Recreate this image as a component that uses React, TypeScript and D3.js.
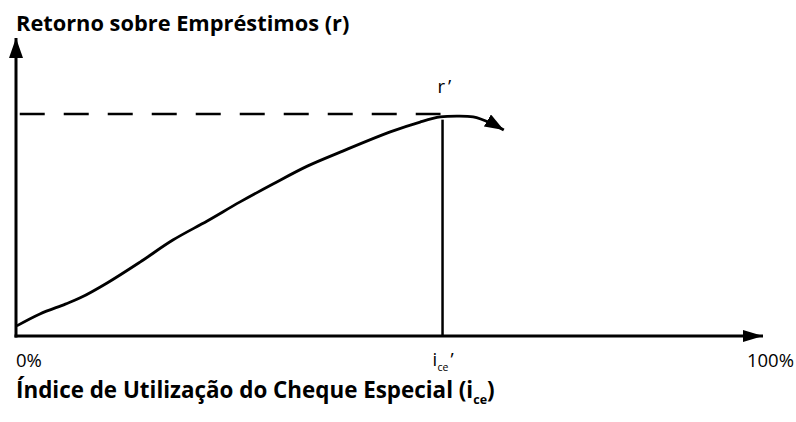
import React, { useEffect, useRef } from 'react';
import * as d3 from 'd3';

// curve points: [utilisation %, return %]
const curveX = [0.1, 3.2, 6.6, 8.6, 12.2, 16.6, 21.0, 25.6, 30.0, 34.4, 39.0, 43.4, 50.1, 54.1, 56.8, 59.0, 61.2, 63.5, 65.3];
const curveY = [3.4, 7.4, 10.7, 12.8, 17.8, 24.8, 32.2, 38.6, 45.0, 51.0, 57.0, 61.7, 68.5, 71.8, 73.5, 73.8, 73.5, 71.5, 69.1];

const icePrime = 57.1;      // optimum utilisation
const rPrime = 74.5;        // maximum return
const rAtIce = 72.6;        // top of the vertical guide
const dashStart = 0.5;

const xTickLabels = ['0%', '100%'];
const yTitle = 'Retorno sobre Empréstimos (r)';
const xTitle = 'Índice de Utilização do Cheque Especial (i';

const App = () => {
  const svgRef = useRef<SVGSVGElement | null>(null);

  useEffect(() => {
    if (!svgRef.current) return;
    d3.select(svgRef.current).selectAll('*').remove();

    const width = 796;
    const height = 422;
    const margin = { top: 38, right: 33, bottom: 86, left: 16 };

    const svg = d3.select(svgRef.current)
      .attr('width', width)
      .attr('height', height)
      .style('background', '#fff');

    const x = d3.scaleLinear().domain([0, 100]).range([margin.left, width - margin.right]);
    const y = d3.scaleLinear().domain([0, 100]).range([height - margin.bottom, margin.top]);

    const defs = svg.append('defs');
    const arrow = (id: string, len: number, wid: number) => {
      defs.append('marker')
        .attr('id', id)
        .attr('viewBox', `0 0 ${len} ${wid}`)
        .attr('refX', len)
        .attr('refY', wid / 2)
        .attr('markerWidth', len)
        .attr('markerHeight', wid)
        .attr('markerUnits', 'userSpaceOnUse')
        .attr('orient', 'auto')
        .append('path')
        .attr('d', `M0,0 L${len},${wid / 2} L0,${wid} Z`)
        .attr('fill', '#000');
    };
    arrow('ax-y', 20, 14);
    arrow('ax-x', 20, 12);
    arrow('crv', 19, 14);

    // axes
    svg.append('line')
      .attr('x1', x(0)).attr('x2', x(0))
      .attr('y1', y(0) + 1.5).attr('y2', y(100))
      .attr('stroke', '#000').attr('stroke-width', 3)
      .attr('marker-end', 'url(#ax-y)');

    svg.append('line')
      .attr('x1', x(0) - 1.5).attr('x2', x(100))
      .attr('y1', y(0)).attr('y2', y(0))
      .attr('stroke', '#000').attr('stroke-width', 3)
      .attr('marker-end', 'url(#ax-x)');

    // dashed guide for r'
    svg.append('line')
      .attr('x1', x(dashStart)).attr('x2', x(icePrime) - 2)
      .attr('y1', y(rPrime)).attr('y2', y(rPrime))
      .attr('stroke', '#000').attr('stroke-width', 2.5)
      .attr('stroke-dasharray', '25,19');

    // vertical guide for i_ce'
    svg.append('line')
      .attr('x1', x(icePrime)).attr('x2', x(icePrime))
      .attr('y1', y(rAtIce)).attr('y2', y(0))
      .attr('stroke', '#000').attr('stroke-width', 2.5);

    // return curve
    const pts = curveX.map((v, i) => [v, curveY[i]] as [number, number]);
    const line = d3.line<[number, number]>()
      .x(d => x(d[0]))
      .y(d => y(d[1]))
      .curve(d3.curveCatmullRom.alpha(0.5));

    svg.append('path')
      .attr('d', line(pts))
      .attr('fill', 'none')
      .attr('stroke', '#000')
      .attr('stroke-width', 2.8)
      .attr('marker-end', 'url(#crv)');

    // labels
    const labelFont = '"Open Sans", sans-serif';
    const titleFont = '"Open Sans", sans-serif';

    svg.append('text')
      .attr('x', x(0)).attr('y', 31)
      .attr('font-family', titleFont).attr('font-weight', 'bold')
      .attr('font-size', 21.8)
      .text(yTitle);

    svg.append('text')
      .attr('x', x(0)).attr('y', 367)
      .attr('font-family', labelFont).attr('font-size', 18.5)
      .text(xTickLabels[0]);

    svg.append('text')
      .attr('x', width - 2).attr('y', 367)
      .attr('text-anchor', 'end')
      .attr('font-family', labelFont).attr('font-size', 18.5)
      .text(xTickLabels[1]);

    // i_ce' label, main letter and subscript kept as separate texts
    const iceX = x(icePrime) - 10;
    svg.append('text')
      .attr('x', iceX).attr('y', 366)
      .attr('font-family', labelFont).attr('font-size', 18.5)
      .text('i');
    svg.append('text')
      .attr('x', iceX + 5).attr('y', 371)
      .attr('font-family', labelFont).attr('font-size', 10.5)
      .text('ce');
    svg.append('text')
      .attr('x', iceX + 18).attr('y', 366)
      .attr('font-family', labelFont).attr('font-size', 18.5)
      .text('’');

    const rp = svg.append('text')
      .attr('x', x(icePrime) - 5).attr('y', 93)
      .attr('font-family', labelFont).attr('font-size', 18.5);
    rp.append('tspan').text('r');
    rp.append('tspan').attr('dx', 3).text('’');

    const xt = svg.append('text')
      .attr('x', x(0)).attr('y', 398)
      .attr('font-family', titleFont).attr('font-weight', 'bold')
      .attr('font-size', 22.4);
    xt.append('tspan').text(xTitle);
    xt.append('tspan').attr('font-size', 12.5).attr('dy', 6).text('ce');
    xt.append('tspan').attr('dy', -6).text(')');
  }, []);

  return (
    <div>
      <svg ref={svgRef} style={{ position: 'absolute', left: 0, top: 0 }}></svg>
    </div>
  );
};

export default App;
